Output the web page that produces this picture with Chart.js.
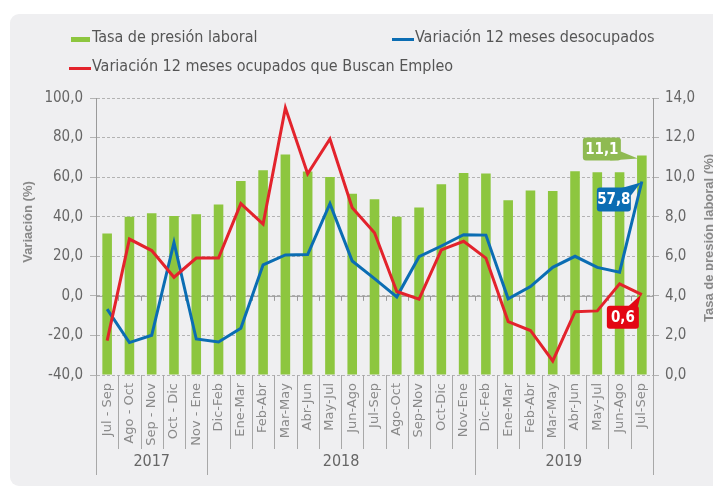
<!DOCTYPE html>
<html>
<head>
<meta charset="utf-8">
<script src="https://cdn.jsdelivr.net/npm/chart.js@4"></script>
<style>
  body { margin: 0; background: #fff; }
  #wrap { position: relative; width: 713px; height: 487px; overflow: hidden; }
  #panel { position: absolute; left: 10px; top: 14px; width: 720px; height: 472px; background: #efeff1; border-radius: 9px; }
  #chart { position: absolute; left: 0; top: 0; }
  .leg { position: absolute; font: 16px 'Liberation Sans Narrow', 'DejaVu Sans Condensed', sans-serif; color: #555; white-space: nowrap; line-height: 18px; }
  .mark { position: absolute; }
</style>
</head>
<body>
<div id="wrap">
  <div id="panel"></div>
  <canvas id="chart" width="713" height="487"></canvas>
  <div id="legend"></div>
</div>
<script>
// periods (x axis) and the year each group belongs to
const periods = [
    'Jul - Sep', 'Ago - Oct', 'Sep - Nov', 'Oct - Dic', 'Nov - Ene',
    'Dic-Feb', 'Ene-Mar', 'Feb-Abr', 'Mar-May', 'Abr-Jun', 'May-Jul', 'Jun-Ago',
    'Jul-Sep', 'Ago-Oct', 'Sep-Nov', 'Oct-Dic', 'Nov-Ene',
    'Dic-Feb', 'Ene-Mar', 'Feb-Abr', 'Mar-May', 'Abr-Jun', 'May-Jul', 'Jun-Ago', 'Jul-Sep'
];
const years = ['2017', '2018', '2019'];
const yearSpans = [5, 12, 8];

// Tasa de presión laboral (%), right axis
const presion = [
    7.15, 8.0, 8.17, 8.03, 8.13, 8.62, 9.81, 10.35, 11.15, 10.28, 10.01, 9.16,
    8.88, 8.0, 8.47, 9.64, 10.21, 10.18, 8.83, 9.33, 9.3, 10.3, 10.25, 10.25, 11.1
];
// Variación 12 meses desocupados (%), left axis
const desocupados = [
    -6.7, -23.6, -19.9, 27.0, -21.8, -23.3, -16.4, 15.7, 20.7, 20.9, 46.6, 17.6,
    8.7, -0.5, 19.8, 25.2, 30.9, 30.7, -1.5, 4.7, 14.4, 20.0, 14.4, 12.0, 57.8
];
// Variación 12 meses ocupados que Buscan Empleo (%), left axis
const ocupadosBuscan = [
    -22.6, 28.7, 22.9, 9.4, 19.1, 19.1, 46.6, 36.3, 95.0, 61.7, 79.3, 44.5,
    31.9, 2.2, -1.7, 23.2, 27.6, 19.1, -13.0, -17.5, -32.9, -8.0, -7.6, 6.1, 0.6
];

const GREEN = '#8dc63f';
const BLUE = '#0b6db3';
const RED = '#e3232c';
const AXIS = '#9a9a9a';
const narrow = "'Liberation Sans Narrow', 'DejaVu Sans Condensed', sans-serif";

const fmt = v => v.toFixed(1).replace('.', ',');

// zero line + x axis separators + year labels + axis titles + callouts
const extras = {
    id: 'extras',
    beforeDatasetsDraw(chart) {
        const {ctx, chartArea} = chart;
        const y0 = chart.scales.y.getPixelForValue(0);
        const xs = chart.scales.x;
        const step = xs.getPixelForValue(1) - xs.getPixelForValue(0);
        ctx.save();
        ctx.strokeStyle = AXIS;
        ctx.lineWidth = 1;
        ctx.beginPath();
        ctx.moveTo(chartArea.left, y0 + 0.5);
        ctx.lineTo(chartArea.right, y0 + 0.5);
        for (let i = 1; i < periods.length; i++) {
            const x = Math.round(xs.getPixelForValue(i) - step / 2) + 0.5;
            ctx.moveTo(x, y0);
            ctx.lineTo(x, y0 + 5);
        }
        ctx.stroke();
        ctx.restore();
    },
    afterDraw(chart) {
        const {ctx, chartArea} = chart;
        const xs = chart.scales.x;
        const step = xs.getPixelForValue(1) - xs.getPixelForValue(0);
        const bottom = chartArea.bottom;
        const edges = [0];
        let acc = 0;
        yearSpans.forEach(n => { acc += n; edges.push(acc); });

        ctx.save();
        ctx.strokeStyle = '#a8a8a8';
        ctx.lineWidth = 1;
        ctx.beginPath();
        for (let i = 0; i <= periods.length; i++) {
            const x = Math.round(xs.getPixelForValue(0) - step / 2 + i * step) + 0.5;
            const long = edges.includes(i);
            ctx.moveTo(x, bottom);
            ctx.lineTo(x, long ? bottom + 100 : bottom + 74);
        }
        ctx.stroke();

        // year labels
        ctx.fillStyle = '#666';
        ctx.font = '16px ' + narrow;
        ctx.textAlign = 'center';
        ctx.textBaseline = 'middle';
        years.forEach((yr, k) => {
            const a = xs.getPixelForValue(edges[k]) - step / 2;
            const b = xs.getPixelForValue(edges[k + 1] - 1) + step / 2;
            ctx.fillText(yr, (a + b) / 2, bottom + 87);
        });

        // axis titles, both reading bottom to top
        ctx.fillStyle = '#888';
        ctx.font = "bold 13px 'Liberation Sans', sans-serif";
        ctx.save();
        ctx.translate(28, 222);
        ctx.rotate(-Math.PI / 2);
        ctx.fillText('Variación (%)', 0, 0);
        ctx.restore();
        ctx.translate(709, 238);
        ctx.rotate(-Math.PI / 2);
        ctx.fillText('Tasa de presión laboral (%)', 0, 0);
        ctx.restore();

        // callouts on the last period
        const last = periods.length - 1;
        const bar = chart.getDatasetMeta(0).data[last];
        const pBlue = chart.getDatasetMeta(1).data[last];
        const pRed = chart.getDatasetMeta(2).data[last];
        const bubble = (x, y, w, h, tail, color, text) => {
            ctx.save();
            ctx.fillStyle = color;
            ctx.beginPath();
            ctx.roundRect(x, y, w, h, 3);
            ctx.fill();
            ctx.beginPath();
            ctx.moveTo(tail[0][0], tail[0][1]);
            ctx.lineTo(tail[1][0], tail[1][1]);
            ctx.lineTo(tail[2][0], tail[2][1]);
            ctx.closePath();
            ctx.fill();
            ctx.fillStyle = '#fff';
            ctx.font = 'bold 15px ' + narrow;
            ctx.textAlign = 'center';
            ctx.textBaseline = 'middle';
            ctx.fillText(text, x + w / 2, y + h / 2 + 1);
            ctx.restore();
        };
        bubble(bar.x - 59, bar.y - 18, 38, 23,
            [[bar.x - 32, bar.y + 5], [bar.x - 21, bar.y - 4], [bar.x - 4, bar.y + 3]],
            '#8fba52', fmt(presion[last]));
        bubble(pBlue.x - 45, pBlue.y + 6, 34, 24,
            [[pBlue.x - 22, pBlue.y + 7], [pBlue.x - 11, pBlue.y + 14], [pBlue.x - 1, pBlue.y + 1]],
            BLUE, fmt(desocupados[last]));
        bubble(pRed.x - 35, pRed.y + 11, 32, 23,
            [[pRed.x - 14, pRed.y + 12], [pRed.x - 4, pRed.y + 12], [pRed.x - 1, pRed.y]],
            '#e30613', fmt(ocupadosBuscan[last]));
    }
};

const chart = new Chart(document.getElementById('chart').getContext('2d'), {
    type: 'bar',
    data: {
        labels: periods,
        datasets: [
            {
                type: 'bar',
                label: 'Tasa de presión laboral',
                data: presion,
                yAxisID: 'y1',
                backgroundColor: GREEN,
                barPercentage: 0.43,
                categoryPercentage: 1.0,
                order: 3
            },
            {
                type: 'line',
                label: 'Variación 12 meses desocupados',
                data: desocupados,
                yAxisID: 'y',
                borderColor: BLUE,
                borderWidth: 3,
                pointRadius: 0,
                tension: 0,
                order: 2
            },
            {
                type: 'line',
                label: 'Variación 12 meses ocupados que Buscan Empleo',
                data: ocupadosBuscan,
                yAxisID: 'y',
                borderColor: RED,
                borderWidth: 3,
                pointRadius: 0,
                tension: 0,
                order: 1
            }
        ]
    },
    options: {
        responsive: false,
        animation: false,
        layout: { padding: { left: 10, top: 98, right: 0, bottom: 0 } },
        plugins: {
            legend: { display: false },
            tooltip: { enabled: false }
        },
        scales: {
            x: {
                grid: { display: false, drawTicks: true, tickLength: 4 },
                border: { display: false },
                ticks: {
                    autoSkip: false,
                    maxRotation: 90,
                    minRotation: 90,
                    padding: 4,
                    color: '#8a8a8a',
                    font: { family: "'DejaVu Sans', sans-serif", size: 13 }
                },
                afterFit(scale) { scale.height = 112; }
            },
            y: {
                position: 'left',
                min: -40,
                max: 100,
                ticks: {
                    stepSize: 20,
                    padding: 7,
                    color: '#666',
                    font: { family: narrow, size: 15 },
                    callback: v => fmt(v)
                },
                grid: { color: '#b3b3b3', tickLength: 6, tickColor: '#b3b3b3' },
                border: { display: true, color: AXIS, dash: [3, 2] },
                afterFit(scale) { scale.width = 86; }
            },
            y1: {
                position: 'right',
                min: 0,
                max: 14,
                ticks: {
                    stepSize: 2,
                    padding: 6,
                    color: '#666',
                    font: { family: narrow, size: 15 },
                    callback: v => fmt(v)
                },
                grid: { drawOnChartArea: false, tickLength: 6, tickColor: '#b3b3b3' },
                border: { display: true, color: AXIS },
                afterFit(scale) { scale.width = 60; }
            }
        }
    },
    plugins: [extras]
});

// html legend in the same two-row layout as the source
const legendPos = [
    { left: 71, top: 28, kind: 'box' },
    { left: 392, top: 28, kind: 'line' },
    { left: 69, top: 57, kind: 'line' }
];
const legendEl = document.getElementById('legend');
chart.data.datasets.forEach((ds, i) => {
    const p = legendPos[i];
    const color = ds.type === 'bar' ? ds.backgroundColor : ds.borderColor;
    const mark = document.createElement('div');
    mark.className = 'mark';
    if (p.kind === 'box') {
        Object.assign(mark.style, { left: p.left + 'px', top: (p.top + 9) + 'px', width: '19px', height: '5px', background: color });
    } else {
        Object.assign(mark.style, { left: p.left + 'px', top: (p.top + 10) + 'px', width: '22px', height: '3px', background: color });
    }
    const txt = document.createElement('div');
    txt.className = 'leg';
    txt.textContent = ds.label;
    txt.style.left = (p.left + (p.kind === 'box' ? 21 : 23)) + 'px';
    txt.style.top = p.top + 'px';
    legendEl.appendChild(mark);
    legendEl.appendChild(txt);
});
</script>
</body>
</html>
